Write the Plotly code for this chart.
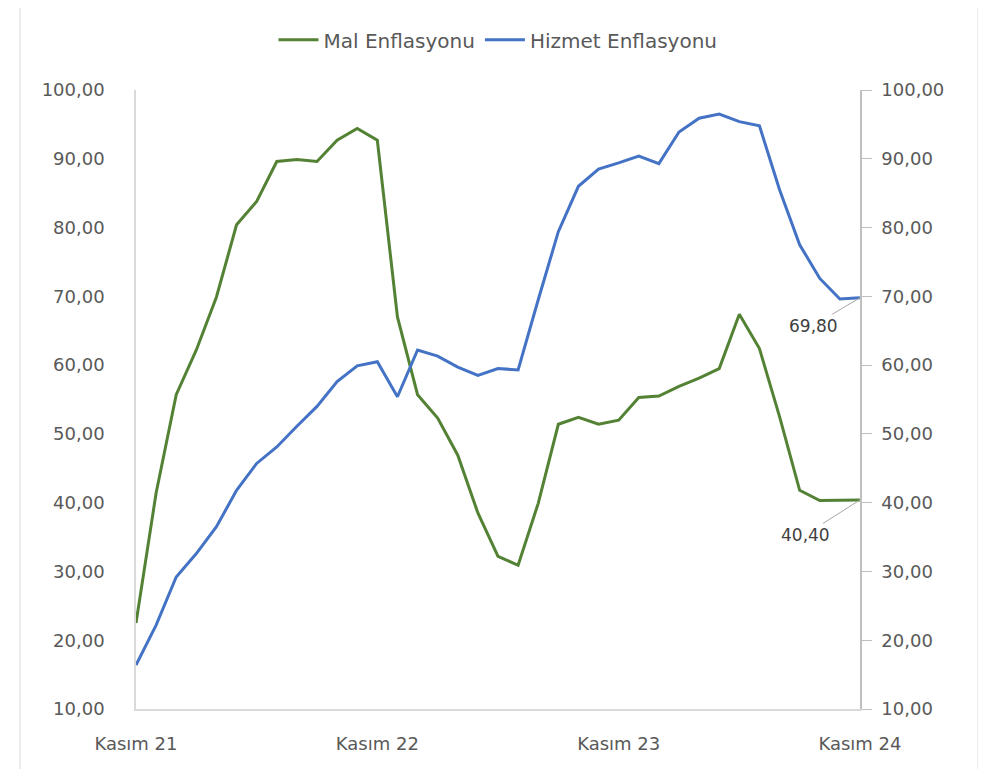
import plotly.graph_objects as go

months = ["Kas 21", "Ara 21", "Oca 22", "Şub 22", "Mar 22", "Nis 22", "May 22", "Haz 22", "Tem 22", "Ağu 22",
          "Eyl 22", "Eki 22", "Kas 22", "Ara 22", "Oca 23", "Şub 23", "Mar 23", "Nis 23", "May 23", "Haz 23",
          "Tem 23", "Ağu 23", "Eyl 23", "Eki 23", "Kas 23", "Ara 23", "Oca 24", "Şub 24", "Mar 24", "Nis 24",
          "May 24", "Haz 24", "Tem 24", "Ağu 24", "Eyl 24", "Eki 24", "Kas 24"]

mal = [22.5, 41.4, 55.7, 62.2, 69.9, 80.4, 83.8, 89.6, 89.9, 89.6,
       92.7, 94.4, 92.7, 67.0, 55.7, 52.3, 46.9, 38.5, 32.2, 30.9,
       39.9, 51.4, 52.4, 51.4, 52.0, 55.3, 55.5, 56.9, 58.1, 59.5,
       67.4, 62.4, 52.5, 41.8, 40.3, 40.4, 40.4]

hizmet = [16.4, 22.2, 29.2, 32.6, 36.5, 41.8, 45.7, 48.1, 51.1, 54.0,
          57.6, 59.9, 60.5, 55.4, 62.2, 61.3, 59.7, 58.5, 59.5, 59.3,
          69.5, 79.4, 86.0, 88.5, 89.4, 90.4, 89.3, 93.9, 95.9, 96.5,
          95.4, 94.8, 85.5, 77.5, 72.6, 69.6, 69.8]

tick_vals = ["Kas 21", "Kas 22", "Kas 23", "Kas 24"]
tick_text = ["Kasım 21", "Kasım 22", "Kasım 23", "Kasım 24"]
y_ticks = [10, 20, 30, 40, 50, 60, 70, 80, 90, 100]

GREEN = "#548235"
BLUE = "#4472C4"
TXT = "#595959"
FONT = "DejaVu Sans"

fig = go.Figure()
fig.add_trace(go.Scatter(x=months, y=mal, name="Mal Enflasyonu", mode="lines",
                         line=dict(color=GREEN, width=3), yaxis="y"))
fig.add_trace(go.Scatter(x=months, y=hizmet, name="Hizmet Enflasyonu", mode="lines",
                         line=dict(color=BLUE, width=3), yaxis="y2"))

fig.add_annotation(x=months[-1], y=mal[-1], yref="y", text="40,40", showarrow=True,
                   arrowhead=0, arrowwidth=1, arrowcolor="#a6a6a6", ax=-55, ay=35,
                   font=dict(family=FONT, size=17, color="#404040"))
fig.add_annotation(x=months[-1], y=hizmet[-1], yref="y2", text="69,80", showarrow=True,
                   arrowhead=0, arrowwidth=1, arrowcolor="#a6a6a6", ax=-47, ay=28,
                   font=dict(family=FONT, size=17, color="#404040"))

fig.add_shape(type="rect", xref="paper", yref="paper", x0=-0.1602, x1=1.163, y0=-0.3, y1=1.3,
              line=dict(color="#d9d9d9", width=1), fillcolor="rgba(0,0,0,0)", layer="below")

fig.update_layout(
    width=986, height=769,
    margin=dict(l=128, r=134, t=82, b=68),
    paper_bgcolor="white", plot_bgcolor="white",
    separators=", ",
    font=dict(family=FONT, size=18, color=TXT),
    showlegend=True,
    legend=dict(orientation="h", x=0.5, xanchor="center", y=1.081, yanchor="middle",
                font=dict(family=FONT, size=20, color=TXT), itemwidth=40,
                traceorder="normal"),
    xaxis=dict(type="category", range=[0, 36], tickmode="array", tickvals=tick_vals,
               ticktext=tick_text, showgrid=False, showline=True, linecolor="#d9d9d9",
               linewidth=1.5, ticks="", ticklabelstandoff=18,
               tickfont=dict(family=FONT, size=18, color=TXT), zeroline=False),
    yaxis=dict(range=[10, 100], tickvals=y_ticks, tickformat=".2f", showgrid=False,
               showline=True, linecolor="#d9d9d9", linewidth=1.5, ticks="",
               ticklabelstandoff=26, tickfont=dict(family=FONT, size=18, color=TXT),
               zeroline=False),
    yaxis2=dict(range=[10, 100], tickvals=y_ticks, tickformat=".2f", overlaying="y",
                side="right", showgrid=False, showline=True, linecolor="#bfbfbf",
                linewidth=1.5, ticks="outside", ticklen=10, tickcolor="#bfbfbf",
                ticklabelstandoff=6, tickfont=dict(family=FONT, size=18, color=TXT),
                zeroline=False),
)

fig.write_html("out.html")
